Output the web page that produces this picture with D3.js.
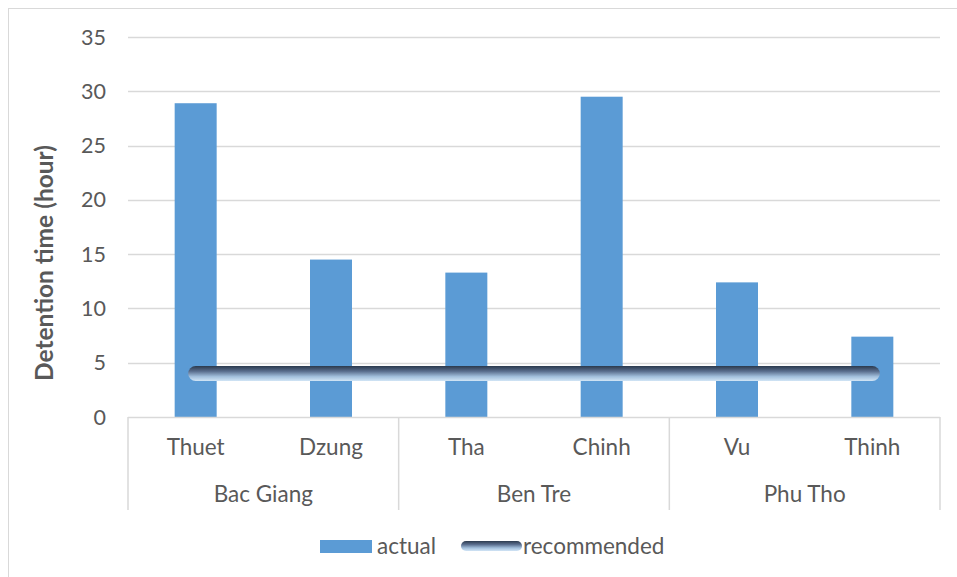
<!DOCTYPE html>
<html>
<head>
<meta charset="utf-8">
<script src="https://cdn.jsdelivr.net/npm/d3@7"></script>
<style>
  body { margin: 0; background: #fff; }
  text { font-family: Lato, "Open Sans", sans-serif; fill: #595959; }
</style>
</head>
<body>
<script>
const names = ['Thuet', 'Dzung', 'Tha', 'Chinh', 'Vu', 'Thinh']
const groups = ['Bac Giang', 'Bac Giang', 'Ben Tre', 'Ben Tre', 'Phu Tho', 'Phu Tho']
const actual = [28.9, 14.5, 13.3, 29.5, 12.4, 7.4]
const recommended = [4, 4, 4, 4, 4, 4]
const yTicks = [0, 5, 10, 15, 20, 25, 30, 35]

const width = 957
const height = 577
const plotLeft = 128
const plotRight = 940
const plotTop = 37
const plotBottom = 417
const fs = '22.5px'

const svg = d3.select('body').append('svg')
  .attr('width', width)
  .attr('height', height)

// chart border
svg.append('rect')
  .attr('x', 8.5).attr('y', 8.5)
  .attr('width', width + 10).attr('height', height + 10)
  .attr('fill', 'none')
  .attr('stroke', '#d9d9d9')

const x = d3.scaleBand().domain(names).range([plotLeft, plotRight])
const y = d3.scaleLinear().domain([0, 35]).range([plotBottom, plotTop])

// gridlines
svg.append('g').selectAll('line')
  .data(yTicks.filter(d => d > 0))
  .join('line')
    .attr('x1', plotLeft).attr('x2', plotRight)
    .attr('y1', d => Math.round(y(d)) + 0.5)
    .attr('y2', d => Math.round(y(d)) + 0.5)
    .attr('stroke', '#d9d9d9')
    .attr('stroke-width', 1.5)

svg.append('g').selectAll('text')
  .data(yTicks)
  .join('text')
    .attr('x', 106)
    .attr('y', d => y(d))
    .attr('dy', '0.35em')
    .attr('text-anchor', 'end')
    .style('font-size', '21.5px')
    .text(d => d)

svg.append('text')
  .attr('transform', `translate(53, 263) rotate(-90)`)
  .attr('text-anchor', 'middle')
  .style('font-size', '24.5px')
  .style('font-weight', 'bold')
  .text('Detention time (hour)')

// bars
const barW = 42
svg.append('g').selectAll('rect')
  .data(actual)
  .join('rect')
    .attr('x', (d, i) => x(names[i]) + x.bandwidth() / 2 - barW / 2)
    .attr('y', d => y(d))
    .attr('width', barW)
    .attr('height', d => y(0) - y(d))
    .attr('fill', '#5b9bd5')

// category axis
const axis = svg.append('g').attr('stroke', '#d9d9d9').attr('stroke-width', 1.5)
axis.append('line')
  .attr('x1', plotLeft).attr('x2', plotRight)
  .attr('y1', plotBottom + 0.5).attr('y2', plotBottom + 0.5)
const groupNames = Array.from(new Set(groups))
const groupEdges = [plotLeft]
groupNames.forEach(g => {
  const last = names[groups.lastIndexOf(g)]
  groupEdges.push(x(last) + x.bandwidth())
})
axis.selectAll('line.sep')
  .data(groupEdges)
  .join('line')
    .attr('class', 'sep')
    .attr('x1', d => d).attr('x2', d => d)
    .attr('y1', plotBottom).attr('y2', 510)

svg.append('g').selectAll('text')
  .data(names)
  .join('text')
    .attr('x', d => x(d) + x.bandwidth() / 2)
    .attr('y', 447)
    .attr('dy', '0.35em')
    .attr('text-anchor', 'middle')
    .style('font-size', fs)
    .text(d => d)

svg.append('g').selectAll('text')
  .data(groupNames)
  .join('text')
    .attr('x', (d, i) => (groupEdges[i] + groupEdges[i + 1]) / 2)
    .attr('y', 494)
    .attr('dy', '0.35em')
    .attr('text-anchor', 'middle')
    .style('font-size', fs)
    .text(d => d)

// recommended line with gradient
const lw = 15
const defs = svg.append('defs')
const addGrad = (id, y0, y1) => {
  const g = defs.append('linearGradient')
    .attr('id', id)
    .attr('gradientUnits', 'userSpaceOnUse')
    .attr('x1', 0).attr('x2', 0).attr('y1', y0).attr('y2', y1)
  g.append('stop').attr('offset', '0%').attr('stop-color', '#2b3a4e')
  g.append('stop').attr('offset', '35%').attr('stop-color', '#5a6e8e')
  g.append('stop').attr('offset', '70%').attr('stop-color', '#a2bfdc')
  g.append('stop').attr('offset', '100%').attr('stop-color', '#d2e5f6')
}
addGrad('lineGrad', y(4) - lw / 2, y(4) + lw / 2)
addGrad('legendGrad', 541, 551)

const line = d3.line()
  .x((d, i) => x(names[i]) + x.bandwidth() / 2)
  .y(d => y(d))

svg.append('path')
  .attr('d', line(recommended))
  .attr('fill', 'none')
  .attr('stroke', 'url(#lineGrad)')
  .attr('stroke-width', lw)
  .attr('stroke-linecap', 'round')

// legend
const lg = svg.append('g')
lg.append('rect')
  .attr('x', 320).attr('y', 540)
  .attr('width', 52).attr('height', 13)
  .attr('fill', '#5b9bd5')
lg.append('text')
  .attr('x', 377).attr('y', 546)
  .attr('dy', '0.35em')
  .style('font-size', fs)
  .text('actual')
lg.append('line')
  .attr('x1', 466).attr('x2', 517)
  .attr('y1', 546).attr('y2', 546)
  .attr('stroke', 'url(#legendGrad)')
  .attr('stroke-width', 10)
  .attr('stroke-linecap', 'round')
lg.append('text')
  .attr('x', 523).attr('y', 546)
  .attr('dy', '0.35em')
  .style('font-size', fs)
  .text('recommended')
</script>
</body>
</html>
